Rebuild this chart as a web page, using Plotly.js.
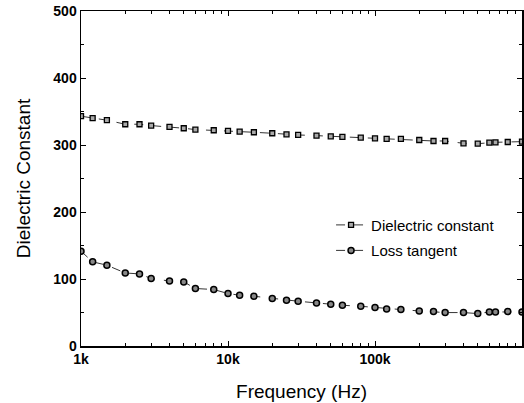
<!DOCTYPE html>
<html>
<head>
<meta charset="utf-8">
<script src="https://cdn.plot.ly/plotly-3.0.1.min.js"></script>
<style>html,body{margin:0;padding:0;background:#fff}#chart{width:524px;height:403px}</style>
</head>
<body>
<div id="chart"></div>
<script>
const frequency = [1000, 1200, 1500, 2000, 2500, 3000, 4000, 5000, 6000, 8000,
  10000, 12000, 15000, 20000, 25000, 30000, 40000, 50000, 60000, 80000,
  100000, 120000, 150000, 200000, 250000, 300000, 400000, 500000, 600000, 660000, 800000, 1000000];
const dielectricConstant = [343, 340, 337, 331, 331, 329, 327, 325, 323, 322,
  321, 320, 319, 317.5, 316, 315, 314, 313, 312, 311,
  310, 309, 309, 307.5, 306, 306, 302.5, 302, 303.5, 304, 304.5, 305];
const lossTangent = [141.5, 125.6, 120.6, 109, 107.6, 100.7, 97, 95.7, 85.8, 84.3,
  78.3, 75.8, 74.3, 70.8, 68.3, 66.8, 64.3, 62.3, 60.8, 59.3,
  57.3, 55.3, 54.4, 52.3, 51.4, 49.9, 49.9, 48.4, 50.8, 50.8, 51.4, 50.8];
const xTickVals = [1000, 10000, 100000];
const xTickText = ["1k", "10k", "100k"];
const yTickVals = [0, 100, 200, 300, 400, 500];

const font = "Liberation Sans, Arial, sans-serif";
const traces = [
  {x: frequency, y: dielectricConstant, name: "Dielectric constant", mode: "lines+markers",
   legendgroup: "a",
   line: {color: "#000", width: 0.8, dash: "dash"},
   marker: {symbol: "square", size: 5, color: "#aaa", line: {color: "#000", width: 1.3}}},
  {x: frequency, y: lossTangent, name: "Loss tangent", mode: "lines+markers",
   legendgroup: "b",
   line: {color: "#000", width: 0.8, dash: "dash"},
   marker: {symbol: "circle", size: 6, color: "#888", line: {color: "#000", width: 1.5}}}
];
const layout = {
  width: 524, height: 403,
  margin: {l: 81, r: 2, t: 11, b: 57},
  paper_bgcolor: "#fff", plot_bgcolor: "#fff",
  font: {family: font, color: "#000", size: 15},
  showlegend: true,
  legend: {x: 0.567, y: 0.41, xanchor: "left", yanchor: "top", bgcolor: "rgba(0,0,0,0)",
           font: {size: 15, family: font}, traceorder: "grouped", tracegroupgap: 3},
  xaxis: {type: "log", range: [3, 6], showgrid: false, zeroline: false,
          showline: true, linecolor: "#000", linewidth: 1.5, mirror: "allticks",
          ticks: "inside", ticklen: 5, tickwidth: 1, tickcolor: "#000",
          tickvals: xTickVals, ticktext: xTickText,
          tickfont: {size: 14, family: font, weight: "bold"},
          minor: {ticks: "inside", ticklen: 3, tickcolor: "#000", tickwidth: 1,
                  tickvals: [2000,3000,4000,5000,6000,7000,8000,9000,20000,30000,40000,50000,60000,70000,80000,90000,200000,300000,400000,500000,600000,700000,800000,900000]},
          title: {text: "Frequency (Hz)", font: {size: 19, family: font}, standoff: 18}},
  yaxis: {range: [0, 500], showgrid: false, zeroline: false,
          showline: true, linecolor: "#000", linewidth: 1.5, mirror: "allticks",
          ticks: "inside", ticklen: 5, tickwidth: 1, tickcolor: "#000",
          tickvals: yTickVals, tickfont: {size: 14, family: font, weight: "bold"},
          minor: {ticks: "inside", ticklen: 3, tickcolor: "#000", tickwidth: 1, dtick: 50},
          title: {text: "Dielectric Constant", font: {size: 19, family: font}, standoff: 17}}
};
Plotly.newPlot("chart", traces, layout, {displayModeBar: false, staticPlot: true});
</script>
</body>
</html>
